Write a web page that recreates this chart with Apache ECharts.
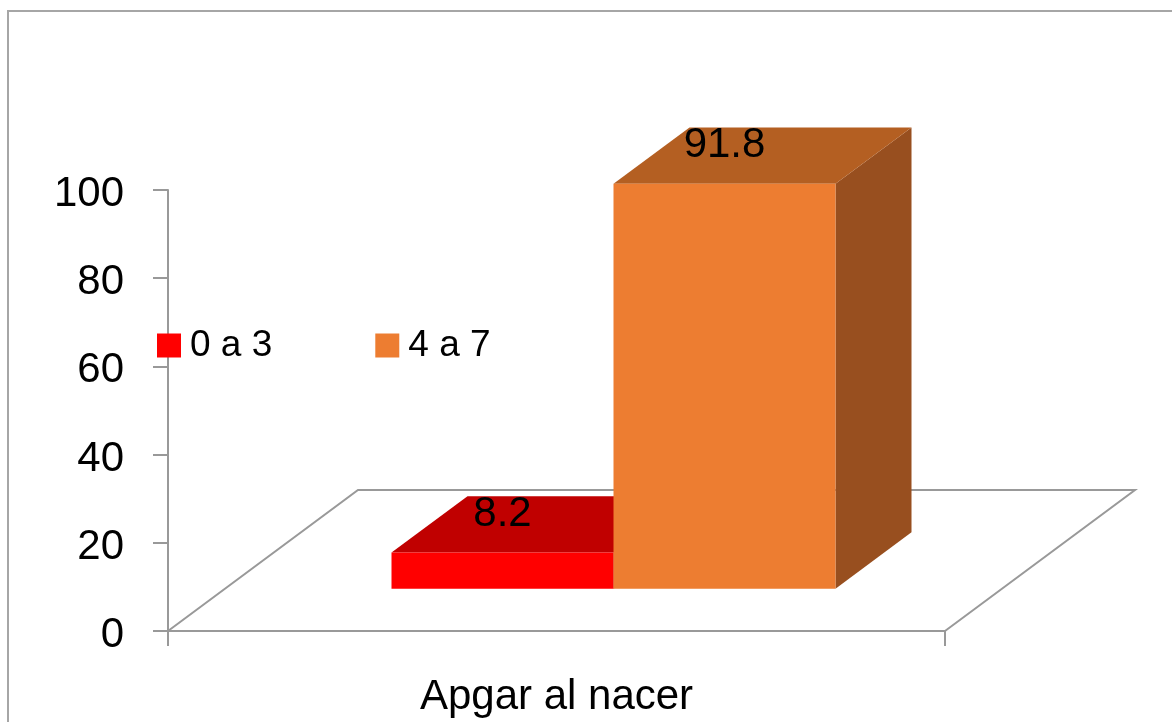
<!DOCTYPE html>
<html>
<head>
<meta charset="utf-8">
<script src="https://cdn.jsdelivr.net/npm/echarts@6/dist/echarts.min.js"></script>
<style>
  html, body { margin: 0; padding: 0; background: #fff; }
  #chart { width: 1172px; height: 722px; }
</style>
</head>
<body>
<div id="chart"></div>
<script>
// Chart data
const categories = ['Apgar al nacer'];
const groupNames = ['0 a 3', '4 a 7'];
const groupValues = [8.2, 91.8];
const yTicks = { min: 0, max: 100, interval: 20 };

// Styling for the pseudo-3D look
const FONT = 'Liberation Sans';
const AXIS_GRAY = '#999999';
const FLOOR_DX = 190, FLOOR_DY = -141;      // depth vector of the floor
const BAR_FRONT = 0.3, BAR_BACK = 0.7;       // bar depth placement within the floor
const faceColors = [
  { front: '#FF0000', top: '#C00000', side: '#A00000' },
  { front: '#ED7D31', top: '#B45F22', side: '#984F1F' }
];

const chart = echarts.init(document.getElementById('chart'));

function floorItem(params, api) {
  const cs = params.coordSys;
  const x0 = cs.x, x1 = cs.x + cs.width, y0 = cs.y + cs.height;
  return {
    type: 'polyline',
    shape: {
      points: [
        [x0, y0],
        [x0 + FLOOR_DX, y0 + FLOOR_DY],
        [x1 + FLOOR_DX, y0 + FLOOR_DY],
        [x1, y0]
      ]
    },
    style: { stroke: AXIS_GRAY, lineWidth: 2, fill: null },
    silent: true
  };
}

function makeBarRenderer(seriesIdx) {
  return function (params, api) {
    const cat = api.value(0);
    const val = api.value(1);
    const base = api.coord([cat, 0]);
    const top = api.coord([cat, val]);
    const band = api.size([1, 0])[0];
    const bw = band / 3.5;                       // two bars + 150% gap
    const fdx = FLOOR_DX * BAR_FRONT, fdy = FLOOR_DY * BAR_FRONT;
    const ddx = FLOOR_DX * (BAR_BACK - BAR_FRONT), ddy = FLOOR_DY * (BAR_BACK - BAR_FRONT);
    const left = base[0] - band / 2 + fdx + 0.75 * bw + seriesIdx * bw;
    const right = left + bw;
    const yb = base[1] + fdy;
    const yt = top[1] + fdy;
    const c = faceColors[seriesIdx];
    return {
      type: 'group',
      children: [
        {
          type: 'polygon',
          shape: { points: [[right, yb], [right + ddx, yb + ddy], [right + ddx, yt + ddy], [right, yt]] },
          style: { fill: c.side }
        },
        {
          type: 'polygon',
          shape: { points: [[left, yt], [right, yt], [right + ddx, yt + ddy], [left + ddx, yt + ddy]] },
          style: { fill: c.top }
        },
        {
          type: 'rect',
          shape: { x: left, y: yt, width: bw, height: yb - yt },
          style: { fill: c.front }
        },
        {
          type: 'text',
          x: (left + right) / 2,
          y: yt - 38,
          style: {
            text: String(val),
            fill: '#000',
            font: '42px "' + FONT + '"',
            align: 'center',
            verticalAlign: 'middle'
          }
        }
      ]
    };
  };
}

const option = {
  backgroundColor: '#fff',
  animation: false,
  textStyle: { fontFamily: FONT },
  graphic: [{
    type: 'rect',
    shape: { x: 8, y: 11, width: 1200, height: 800 },
    style: { fill: null, stroke: '#A6A6A6', lineWidth: 2 },
    silent: true,
    z: -10
  }],
  grid: { left: 168, right: 227, top: 190, bottom: 91, containLabel: false },
  legend: {
    data: groupNames,
    left: 157,
    top: 327,
    padding: 0,
    icon: 'rect',
    itemWidth: 24,
    itemHeight: 24,
    itemGap: 103,
    textStyle: { fontSize: 37, color: '#000', fontFamily: FONT, padding: [0, 0, 0, 4] }
  },
  xAxis: {
    type: 'category',
    data: categories,
    axisLine: { show: true, lineStyle: { color: AXIS_GRAY, width: 2 } },
    axisTick: { show: true, length: 15, lineStyle: { color: AXIS_GRAY, width: 2 } },
    axisLabel: { fontSize: 42, color: '#000', margin: 45, fontFamily: FONT },
    splitLine: { show: false }
  },
  yAxis: {
    type: 'value',
    min: yTicks.min,
    max: yTicks.max,
    interval: yTicks.interval,
    axisLine: { show: true, lineStyle: { color: AXIS_GRAY, width: 2 } },
    axisTick: { show: true, length: 15, lineStyle: { color: AXIS_GRAY, width: 2 } },
    axisLabel: {
      fontSize: 42, color: '#000', margin: 44, fontFamily: FONT,
      verticalAlign: 'top', lineHeight: 9
    },
    splitLine: { show: false }
  },
  series: [
    {
      name: 'floor',
      type: 'custom',
      coordinateSystem: 'cartesian2d',
      renderItem: floorItem,
      data: [[0, 0]],
      clip: false,
      silent: true,
      z: 1
    }
  ].concat(groupNames.map((name, i) => ({
    name: name,
    type: 'custom',
    coordinateSystem: 'cartesian2d',
    renderItem: makeBarRenderer(i),
    itemStyle: { color: faceColors[i].front },
    data: [[0, groupValues[i]]],
    encode: { x: 0, y: 1 },
    clip: false,
    z: 2 + i
  })))
};

chart.setOption(option);
</script>
</body>
</html>
